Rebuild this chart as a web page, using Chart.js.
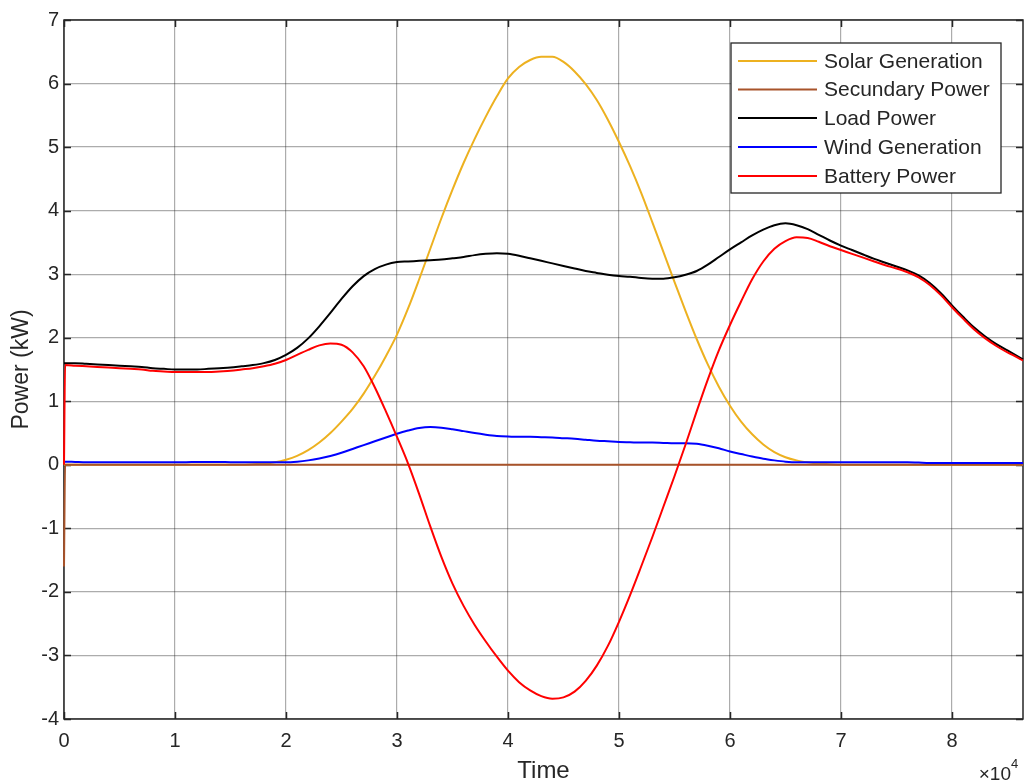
<!DOCTYPE html>
<html>
<head>
<meta charset="utf-8">
<script src="https://cdn.jsdelivr.net/npm/chart.js@4"></script>
<style>
  html, body { margin: 0; padding: 0; background: #ffffff; }
  #wrap { width: 1030px; height: 783px; }
</style>
</head>
<body>
<div id="wrap"><canvas id="c" width="1030" height="783"></canvas></div>
<script>
// Sample times, in thousands of seconds over one day
const timeKs = [0, 0.1, 1, 2, 3, 4, 5, 6, 7, 8, 9, 10, 11, 12, 13, 14, 15, 16, 17, 18, 19,
  20, 21, 22, 23, 24, 25, 26, 27, 28, 29, 30, 31, 32, 33, 34, 35, 36, 37, 38, 39,
  40, 41, 42, 43, 44, 45, 46, 47, 48, 49, 50, 51, 52, 53, 54, 55, 56, 57, 58, 59,
  60, 61, 62, 63, 64, 65, 66, 67, 68, 69, 70, 71, 72, 73, 74, 75, 76, 77, 78, 79,
  80, 81, 82, 83, 84, 85, 86, 86.4];

// Power series in kW
const solarGeneration = [0, 0, 0, 0, 0, 0, 0, 0, 0, 0, 0, 0, 0, 0, 0, 0, 0, 0, 0.01, 0.02, 0.04,
  0.08, 0.14, 0.23, 0.35, 0.5, 0.68, 0.88, 1.12, 1.4, 1.71, 2.05, 2.46, 2.92, 3.4, 3.88, 4.33, 4.75, 5.13, 5.48, 5.8,
  6.08, 6.26, 6.37, 6.42, 6.42, 6.34, 6.19, 5.99, 5.74, 5.43, 5.08, 4.7, 4.28, 3.82, 3.35, 2.88, 2.42, 1.98, 1.58, 1.23,
  0.93, 0.68, 0.48, 0.32, 0.2, 0.12, 0.07, 0.04, 0.02, 0.01, 0, 0, 0, 0, 0, 0, 0, 0, 0, 0,
  0, 0, 0, 0, 0, 0, 0, 0];

const secundaryPower = [-1.6, 0, 0, 0, 0, 0, 0, 0, 0, 0, 0, 0, 0, 0, 0, 0, 0, 0, 0, 0, 0,
  0, 0, 0, 0, 0, 0, 0, 0, 0, 0, 0, 0, 0, 0, 0, 0, 0, 0, 0, 0,
  0, 0, 0, 0, 0, 0, 0, 0, 0, 0, 0, 0, 0, 0, 0, 0, 0, 0, 0, 0,
  0, 0, 0, 0, 0, 0, 0, 0, 0, 0, 0, 0, 0, 0, 0, 0, 0, 0, 0, 0,
  0, 0, 0, 0, 0, 0, 0, 0];

const loadPower = [1.6, 1.6, 1.6, 1.59, 1.58, 1.57, 1.56, 1.55, 1.54, 1.52, 1.51, 1.5, 1.5, 1.5, 1.51, 1.52, 1.53, 1.55, 1.57, 1.6, 1.65,
  1.73, 1.84, 1.99, 2.18, 2.39, 2.61, 2.81, 2.97, 3.08, 3.15, 3.19, 3.2, 3.21, 3.22, 3.23, 3.25, 3.27, 3.3, 3.32, 3.33,
  3.32, 3.29, 3.25, 3.21, 3.17, 3.13, 3.09, 3.05, 3.02, 2.99, 2.97, 2.96, 2.94, 2.93, 2.93, 2.95, 2.99, 3.05, 3.15, 3.27,
  3.39, 3.5, 3.61, 3.7, 3.77, 3.8, 3.77, 3.71, 3.62, 3.53, 3.45, 3.38, 3.31, 3.24, 3.18, 3.12, 3.06, 2.98, 2.86, 2.7,
  2.51, 2.33, 2.16, 2.02, 1.9, 1.8, 1.7, 1.66];

const windGeneration = [0.05, 0.05, 0.045, 0.04, 0.04, 0.04, 0.04, 0.04, 0.04, 0.04, 0.04, 0.04, 0.04, 0.045, 0.045, 0.045, 0.04, 0.04, 0.04, 0.04, 0.04,
  0.04, 0.05, 0.07, 0.1, 0.14, 0.19, 0.25, 0.31, 0.37, 0.43, 0.49, 0.54, 0.58, 0.595, 0.585, 0.56, 0.53, 0.5, 0.475, 0.455,
  0.445, 0.44, 0.44, 0.435, 0.43, 0.42, 0.41, 0.395, 0.38, 0.37, 0.36, 0.355, 0.35, 0.35, 0.345, 0.34, 0.34, 0.33, 0.3, 0.26,
  0.21, 0.17, 0.13, 0.095, 0.07, 0.05, 0.04, 0.04, 0.04, 0.04, 0.04, 0.04, 0.04, 0.04, 0.04, 0.04, 0.04, 0.035, 0.03, 0.03,
  0.03, 0.03, 0.03, 0.03, 0.03, 0.03, 0.03, 0.03];

const batteryPower = [0, 1.57, 1.56, 1.55, 1.54, 1.53, 1.52, 1.51, 1.5, 1.48, 1.47, 1.46, 1.46, 1.46, 1.46, 1.47, 1.48, 1.5, 1.52, 1.55, 1.59,
  1.65, 1.73, 1.81, 1.88, 1.91, 1.89, 1.77, 1.55, 1.22, 0.84, 0.44, 0.02, -0.46, -0.97, -1.45, -1.87, -2.22, -2.52, -2.78, -3.02,
  -3.24, -3.42, -3.55, -3.64, -3.68, -3.66, -3.57, -3.4, -3.16, -2.85, -2.47, -2.05, -1.6, -1.14, -0.66, -0.18, 0.32, 0.84, 1.34, 1.8,
  2.2, 2.57, 2.92, 3.2, 3.4, 3.52, 3.58, 3.57, 3.51, 3.44, 3.38, 3.32, 3.26, 3.2, 3.14, 3.09, 3.03, 2.95, 2.83, 2.67,
  2.48, 2.3, 2.13, 1.99, 1.87, 1.77, 1.68, 1.64];

// Axis ticks
const xTicks = [0, 10000, 20000, 30000, 40000, 50000, 60000, 70000, 80000];
const yTicks = [-4, -3, -2, -1, 0, 1, 2, 3, 4, 5, 6, 7];
const xScaleFactor = 10000;
const xMaxSeconds = 86400;

const seriesNames = ['Solar Generation', 'Secundary Power', 'Load Power', 'Wind Generation', 'Battery Power'];
const seriesColors = ['#EDB120', '#A8532A', '#000000', '#0000FF', '#FF0000'];
const seriesValues = [solarGeneration, secundaryPower, loadPower, windGeneration, batteryPower];

const AXIS_COLOR = '#262626';
const GRID_COLOR = 'rgba(38,38,38,0.38)';
const FONT = "'Liberation Sans', Arial, Helvetica, sans-serif";

const datasets = seriesValues.map((vals, i) => ({
  label: seriesNames[i],
  data: timeKs.map((t, j) => ({ x: t * 1000, y: vals[j] })),
  borderColor: seriesColors[i],
  backgroundColor: seriesColors[i],
  borderWidth: 2,
  pointRadius: 0,
  fill: false,
  cubicInterpolationMode: 'monotone',
  clip: false,
  order: seriesValues.length - i   // later series are drawn on top
}));

// Axes box with inward tick marks on all four sides, legend and axis exponent
const framePlugin = {
  id: 'frame',
  beforeDatasetsDraw(chart) {
    const { ctx, chartArea: a, scales: { x, y } } = chart;
    ctx.save();
    ctx.strokeStyle = AXIS_COLOR;
    ctx.lineWidth = 1.5;
    ctx.strokeRect(a.left, a.top, a.right - a.left, a.bottom - a.top);
    const len = 7;
    ctx.beginPath();
    x.ticks.forEach(tk => {
      const px = Math.round(x.getPixelForValue(tk.value)) + 0.5;
      ctx.moveTo(px, a.bottom); ctx.lineTo(px, a.bottom - len);
      ctx.moveTo(px, a.top); ctx.lineTo(px, a.top + len);
    });
    y.ticks.forEach(tk => {
      const py = Math.round(y.getPixelForValue(tk.value)) + 0.5;
      ctx.moveTo(a.left, py); ctx.lineTo(a.left + len, py);
      ctx.moveTo(a.right, py); ctx.lineTo(a.right - len, py);
    });
    ctx.stroke();
    ctx.restore();
  },
  afterDraw(chart) {
    const { ctx } = chart;
    ctx.save();
    // exponent label for the time axis
    ctx.fillStyle = AXIS_COLOR;
    ctx.textBaseline = 'alphabetic';
    ctx.textAlign = 'right';
    ctx.font = '19px ' + FONT;
    ctx.fillText('\u00d710', 1011, 780);
    ctx.textAlign = 'left';
    ctx.font = '13px ' + FONT;
    ctx.fillText('4', 1011, 768);

    // legend box
    const box = { left: 731, top: 43, width: 270, height: 150 };
    ctx.fillStyle = '#ffffff';
    ctx.fillRect(box.left, box.top, box.width, box.height);
    ctx.strokeStyle = AXIS_COLOR;
    ctx.lineWidth = 1.3;
    ctx.strokeRect(box.left, box.top, box.width, box.height);
    const rowY = [61, 89.5, 118, 147, 176];
    chart.data.datasets.forEach((ds, i) => {
      ctx.strokeStyle = ds.borderColor;
      ctx.lineWidth = 2;
      ctx.beginPath();
      ctx.moveTo(738, rowY[i]);
      ctx.lineTo(817, rowY[i]);
      ctx.stroke();
      ctx.fillStyle = AXIS_COLOR;
      ctx.font = '21px ' + FONT;
      ctx.textAlign = 'left';
      ctx.textBaseline = 'middle';
      ctx.fillText(ds.label, 824, rowY[i] + 1);
    });
    ctx.restore();
  }
};

new Chart(document.getElementById('c'), {
  type: 'line',
  data: { datasets },
  options: {
    responsive: false,
    devicePixelRatio: 1,
    animation: false,
    events: [],
    layout: { padding: { top: 20, right: 7, left: 0, bottom: 0 } },
    plugins: {
      legend: { display: false },
      tooltip: { enabled: false },
      title: { display: false }
    },
    scales: {
      x: {
        type: 'linear',
        min: 0,
        max: xMaxSeconds,
        afterBuildTicks(scale) {
          scale.ticks = xTicks.map(v => ({ value: v }));
        },
        afterFit(scale) { scale.height = 64; },
        ticks: {
          autoSkip: false,
          maxRotation: 0,
          padding: 10,
          color: AXIS_COLOR,
          font: { family: FONT, size: 20 },
          callback: v => String(v / xScaleFactor)
        },
        grid: { color: GRID_COLOR, lineWidth: 1.2, drawTicks: false },
        border: { display: false },
        title: {
          display: true,
          text: 'Time',
          color: AXIS_COLOR,
          font: { family: FONT, size: 24, lineHeight: 1 },
          padding: { top: 0, bottom: 0 }
        }
      },
      y: {
        type: 'linear',
        min: yTicks[0],
        max: yTicks[yTicks.length - 1],
        afterBuildTicks(scale) {
          scale.ticks = yTicks.map(v => ({ value: v }));
        },
        afterFit(scale) { scale.width = 64; },
        ticks: {
          autoSkip: false,
          padding: 5,
          color: AXIS_COLOR,
          font: { family: FONT, size: 20 },
          callback: v => String(v)
        },
        grid: { color: GRID_COLOR, lineWidth: 1.2, drawTicks: false },
        border: { display: false },
        title: {
          display: true,
          text: 'Power (kW)',
          color: AXIS_COLOR,
          font: { family: FONT, size: 23, lineHeight: 1.2 },
          padding: { top: 8, bottom: 0 }
        }
      }
    }
  },
  plugins: [framePlugin]
});
</script>
</body>
</html>
